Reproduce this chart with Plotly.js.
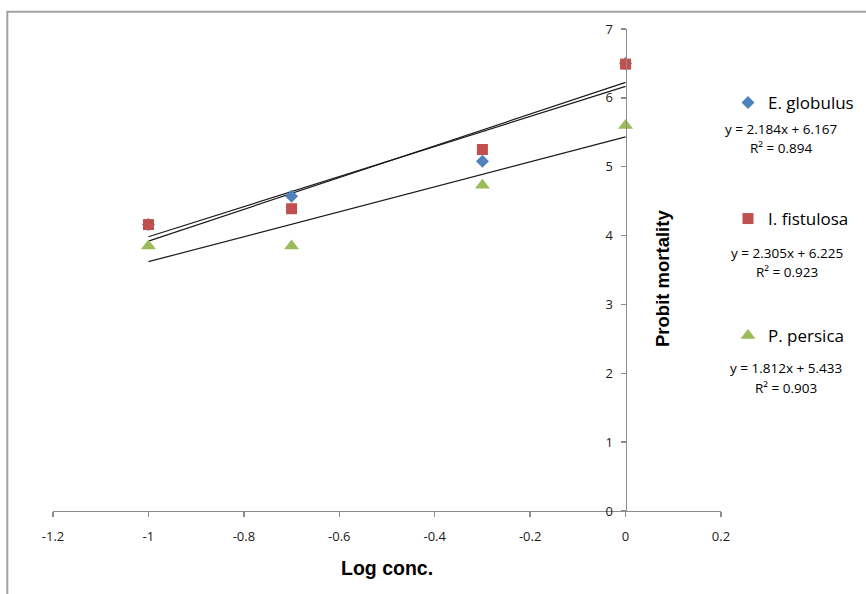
<!DOCTYPE html>
<html>
<head>
<meta charset="utf-8">
<script src="https://cdn.plot.ly/plotly-3.0.1.min.js"></script>
<style>
  html, body { margin: 0; padding: 0; background: #ffffff; }
  #chart { width: 866px; height: 594px; }
</style>
</head>
<body>
<div id="chart"></div>
<script>
// ---- Data ----
var logConc = [-1, -0.7, -0.3, 0];
var eGlobulus = [4.16, 4.57, 5.08, 6.50];
var iFistulosa = [4.16, 4.39, 5.25, 6.49];
var pPersica = [3.85, 3.85, 4.73, 5.60];

var seriesNames = ["E. globulus", "I. fistulosa", "P. persica"];
var trendSlopes = [2.184, 2.305, 1.812];
var trendIntercepts = [6.167, 6.225, 5.433];
var trendR2 = [0.894, 0.923, 0.903];

var xTickVals = [-1.2, -1, -0.8, -0.6, -0.4, -0.2, 0, 0.2];
var xTickLabels = ["-1.2", "-1", "-0.8", "-0.6", "-0.4", "-0.2", "0", "0.2"];
var yTickVals = [0, 1, 2, 3, 4, 5, 6, 7];

// ---- Styling ----
var colors = ["#4F81BD", "#C0504D", "#9BBB59"];
var symbols = ["diamond", "square", "triangle-up"];
var sizes = [10, 11, 13];
var seriesValues = [eGlobulus, iFistulosa, pPersica];
var legendIds = ["legend", "legend2", "legend3"];
var axisGray = "#8c8c8c";
var tickFont = { family: "Open Sans, sans-serif", size: 13, color: "#1a1a1a" };

var traces = [];
var xMin = Math.min.apply(null, logConc);
var xMax = Math.max.apply(null, logConc);

// trend lines (from the displayed regression equations)
for (var i = 0; i < 3; i++) {
  traces.push({
    type: "scatter", mode: "lines",
    x: [xMin, xMax],
    y: [trendSlopes[i] * xMin + trendIntercepts[i], trendSlopes[i] * xMax + trendIntercepts[i]],
    line: { color: "#1a1a1a", width: 1.2 },
    showlegend: false, hoverinfo: "skip"
  });
}
// data markers
for (var j = 0; j < 3; j++) {
  traces.push({
    type: "scatter", mode: "markers",
    name: seriesNames[j],
    x: logConc, y: seriesValues[j],
    marker: { color: colors[j], symbol: symbols[j], size: sizes[j], line: { width: 0 } },
    legend: legendIds[j],
    showlegend: true
  });
}

var W = 866, H = 594;
var plotL = 53, plotR = 721, plotT = 29, plotB = 511;
function px2x(px) { return (px - plotL) / (plotR - plotL); }
function px2y(py) { return (plotB - py) / (plotB - plotT); }

var legendFont = { family: "Open Sans, sans-serif", size: 17, color: "#000000" };
function makeLegend(cy) {
  return {
    x: 728 / W, xanchor: "left",
    y: 1 - cy / H, yanchor: "middle",
    xref: "container", yref: "container",
    bgcolor: "rgba(0,0,0,0)", borderwidth: 0,
    font: legendFont, itemclick: false, itemdoubleclick: false
  };
}

var eqFont = { family: "Open Sans, sans-serif", size: 13.5, color: "#000000" };
var eqPos = [
  { ex: 781, ey: 129, rx: 781, ry: 148 },
  { ex: 787, ey: 253, rx: 787, ry: 272 },
  { ex: 786, ey: 368, rx: 786, ry: 388 }
];
var annotations = [];
for (var k = 0; k < 3; k++) {
  annotations.push({
    xref: "paper", yref: "paper", x: px2x(eqPos[k].ex), y: px2y(eqPos[k].ey),
    xanchor: "center", yanchor: "middle", showarrow: false,
    text: "y = " + trendSlopes[k].toFixed(3) + "x + " + trendIntercepts[k].toFixed(3),
    font: eqFont
  });
  annotations.push({
    xref: "paper", yref: "paper", x: px2x(eqPos[k].rx), y: px2y(eqPos[k].ry),
    xanchor: "center", yanchor: "middle", showarrow: false,
    text: "R² = " + trendR2[k].toFixed(3),
    font: eqFont
  });
}
// axis titles
annotations.push({
  xref: "paper", yref: "paper", x: px2x(387), y: px2y(568),
  xanchor: "center", yanchor: "middle", showarrow: false,
  text: "<b>Log conc.</b>",
  font: { family: "Liberation Sans, Arial, sans-serif", size: 19.5, color: "#000000" }
});
annotations.push({
  xref: "paper", yref: "paper", x: px2x(662), y: px2y(279),
  xanchor: "center", yanchor: "middle", showarrow: false, textangle: -90,
  text: "<b>Probit mortality</b>",
  font: { family: "Liberation Sans, Arial, sans-serif", size: 18.5, color: "#000000" }
});

var layout = {
  width: W, height: H,
  margin: { l: plotL, r: W - plotR, t: plotT, b: H - plotB, pad: 0, autoexpand: false },
  paper_bgcolor: "#ffffff", plot_bgcolor: "#ffffff",
  showlegend: true,
  legend: makeLegend(103),
  legend2: makeLegend(219),
  legend3: makeLegend(336),
  xaxis: {
    range: [-1.2, 0.2], tickvals: xTickVals, ticktext: xTickLabels,
    showgrid: false, zeroline: false,
    showline: true, linecolor: axisGray, linewidth: 1.3,
    ticks: "outside", ticklen: 5, tickcolor: axisGray, tickwidth: 1.3,
    ticklabelstandoff: 8,
    tickfont: tickFont, fixedrange: true, automargin: false
  },
  yaxis: {
    range: [0, 7], tickvals: yTickVals,
    anchor: "free", position: (0 - (-1.2)) / 1.4, side: "left",
    showgrid: false, zeroline: false,
    showline: true, linecolor: axisGray, linewidth: 1.3,
    ticks: "outside", ticklen: 5, tickcolor: axisGray, tickwidth: 1.3,
    ticklabelstandoff: 5,
    tickfont: tickFont, fixedrange: true, automargin: false
  },
  annotations: annotations,
  shapes: [{
    type: "path", xref: "paper", yref: "paper",
    path: "M " + px2x(7.3) + "," + px2y(620) + " L " + px2x(7.3) + "," + px2y(11.7) + " L " + px2x(900) + "," + px2y(11.7),
    line: { color: "#a3a3a3", width: 2 }
  }]
};

Plotly.newPlot("chart", traces, layout, { displayModeBar: false, staticPlot: true });
</script>
</body>
</html>
